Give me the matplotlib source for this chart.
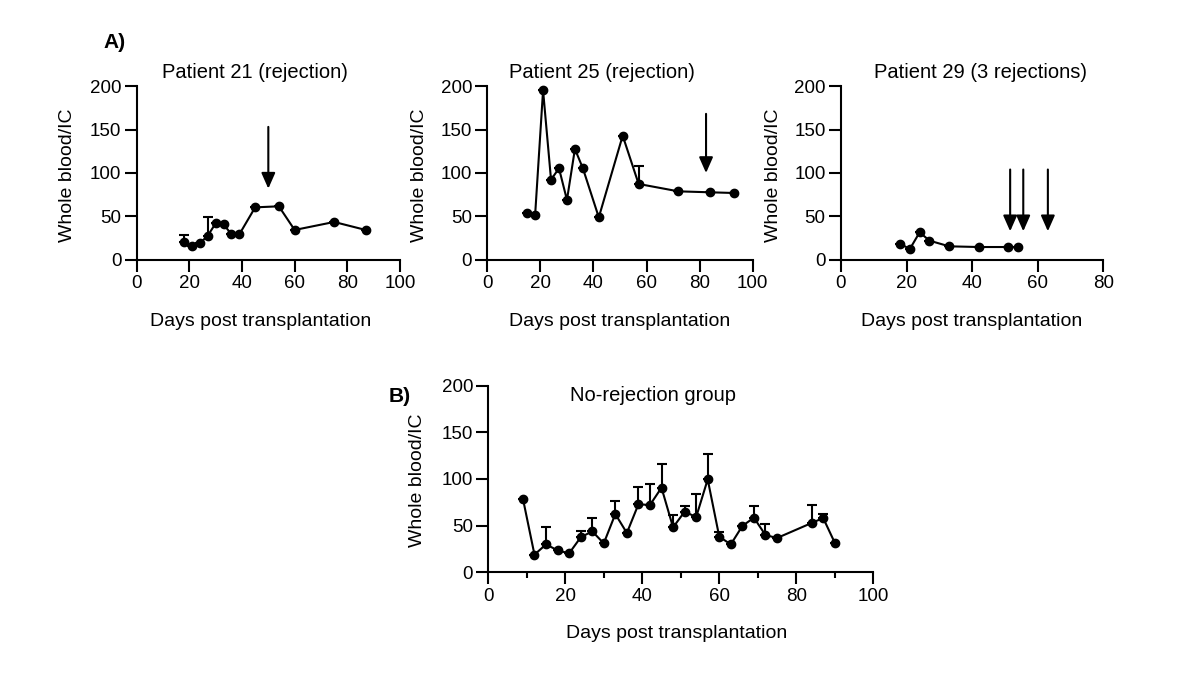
import numpy as np
import matplotlib
matplotlib.use("Agg")
import matplotlib.pyplot as plt

plt.rcParams['font.family'] = ['Liberation Sans', 'DejaVu Sans']

# ---- data ----
p21_days = [18, 21, 24, 27, 30, 33, 36, 39, 45, 54, 60, 75, 87]
p21_vals = [20.3, 16.1, 19.2, 28, 42.1, 41, 29.5, 29.5, 60.5, 61.7, 34.5, 43.7, 34.5]
p21_err = [8, 0, 0, 21, 0, 0, 0, 0, 0, 0, 0, 0, 0]
p21_arrows = [50]

p25_days = [15, 18, 21, 24, 27, 30, 33, 36, 42, 51, 57, 72, 84, 93]
p25_vals = [53.6, 51.3, 195, 92.3, 105.4, 69, 127.6, 105.4, 49, 142.9, 87.4, 78.9, 77.8, 77]
p25_err = [0, 0, 0, 0, 0, 0, 0, 0, 0, 0, 21, 0, 0, 0]
p25_arrows = [82.4]

p29_days = [18, 21, 24, 27, 33, 42, 51, 54]
p29_vals = [18.8, 12.6, 31.8, 22.2, 15.7, 14.9, 14.9, 14.6]
p29_err = [0, 0, 0, 0, 0, 0, 0, 0]
p29_arrows = [51.6, 55.6, 63.1]

nr_days = [9, 12, 15, 18, 21, 24, 27, 30, 33, 36, 39, 42, 45, 48, 51, 54, 57,
           60, 63, 66, 69, 72, 75, 84, 87, 90]
nr_vals = [78.8, 18.9, 29.9, 23.5, 20.3, 37.4, 43.9, 31, 62.4, 42.1, 72.8, 72.1,
           90.6, 48.1, 64.9, 59.2, 99.5, 38.1, 29.9, 49.6, 58.5, 39.9, 36.7,
           52.8, 58.1, 31.7]
nr_err = [0, 0, 19, 0, 0, 7, 14, 0, 14, 0, 19, 22, 25, 13, 6.5, 25, 27,
          5, 0, 0, 12, 12, 0, 19.6, 4, 0]

arrow_top = 153
arrow_tip = 82
arrow_top_p25 = 168
arrow_tip_p25 = 100
arrow_top_p29 = 104
arrow_tip_p29 = 33

y_ticks = [0, 50, 100, 150, 200]
x_ticks_100 = [0, 20, 40, 60, 80, 100]
x_ticks_80 = [0, 20, 40, 60, 80]
x_minor_b = [10, 30, 50, 70, 90]

fig = plt.figure(figsize=(12, 6.97), dpi=100)

FS_TICK = 13.5
FS_LAB = 14
FS_TITLE = 14.5
LW = 1.5


def style(ax, xmax, xticks):
    ax.set_xlim(0, xmax)
    ax.set_ylim(0, 200)
    ax.set_xticks(xticks)
    ax.set_xticklabels([str(t) for t in xticks])
    ax.set_yticks(y_ticks)
    for s in ['top', 'right']:
        ax.spines[s].set_visible(False)
    for s in ['left', 'bottom']:
        ax.spines[s].set_linewidth(LW)
    ax.tick_params(direction='out', length=8.5, width=LW, labelsize=FS_TICK, pad=2.5)


def draw(ax, days, vals, err):
    err = np.asarray(err, dtype=float)
    ax.errorbar(days, vals, yerr=[np.zeros_like(err), err], fmt='none',
                ecolor='black', elinewidth=LW, capsize=3.5, capthick=LW,
                clip_on=False, zorder=2)
    ax.plot(days, vals, '-o', color='black', lw=LW, ms=6, clip_on=False, zorder=3)


def arrows(ax, xs, top, tip):
    for x in xs:
        ax.annotate('', xy=(x, tip), xytext=(x, top),
                    arrowprops=dict(arrowstyle='-|>,head_length=0.95,head_width=0.42',
                                    color='black', lw=LW, shrinkA=0, shrinkB=0))


H = 0.2496
BOT = 0.6270

ax1 = fig.add_axes([0.1139, BOT, 0.2194, H])
style(ax1, 100, x_ticks_100)
draw(ax1, p21_days, p21_vals, p21_err)
arrows(ax1, p21_arrows, arrow_top, arrow_tip)

ax2 = fig.add_axes([0.4061, BOT, 0.2212, H])
style(ax2, 100, x_ticks_100)
draw(ax2, p25_days, p25_vals, p25_err)
arrows(ax2, p25_arrows, arrow_top_p25, arrow_tip_p25)

ax3 = fig.add_axes([0.7008, BOT, 0.2186, H])
style(ax3, 80, x_ticks_80)
draw(ax3, p29_days, p29_vals, p29_err)
arrows(ax3, p29_arrows, arrow_top_p29, arrow_tip_p29)

ax4 = fig.add_axes([0.4069, 0.1789, 0.3208, 0.268])
style(ax4, 100, x_ticks_100)
ax4.set_xticks(x_minor_b, minor=True)
ax4.tick_params(axis='x', which='minor', direction='out', length=4.5, width=LW)
draw(ax4, nr_days, nr_vals, nr_err)


def fx(px):
    return px / 1200.0


def fy(py):
    return 1 - py / 697.0


fig.text(fx(255), fy(72), 'Patient 21 (rejection)', ha='center', va='center', fontsize=FS_TITLE)
fig.text(fx(602), fy(72), 'Patient 25 (rejection)', ha='center', va='center', fontsize=FS_TITLE)
fig.text(fx(980), fy(72), 'Patient 29 (3 rejections)', ha='center', va='center', fontsize=FS_TITLE)
fig.text(fx(653), fy(395), 'No-rejection group', ha='center', va='center', fontsize=FS_TITLE)

for x in [261, 620, 972]:
    fig.text(fx(x), fy(321), 'Days post transplantation', ha='center', va='center', fontsize=FS_LAB)
fig.text(fx(677), fy(633), 'Days post transplantation', ha='center', va='center', fontsize=FS_LAB)

for x, y in [(67, 175), (420, 175), (773, 175), (418, 480)]:
    fig.text(fx(x), fy(y), 'Whole blood/IC', ha='center', va='center',
             rotation=90, fontsize=FS_LAB)

fig.text(fx(115), fy(42), 'A)', ha='center', va='center', fontsize=15, fontweight='bold')
fig.text(fx(400), fy(396), 'B)', ha='center', va='center', fontsize=15, fontweight='bold')

fig.savefig('out.png', dpi=100)
